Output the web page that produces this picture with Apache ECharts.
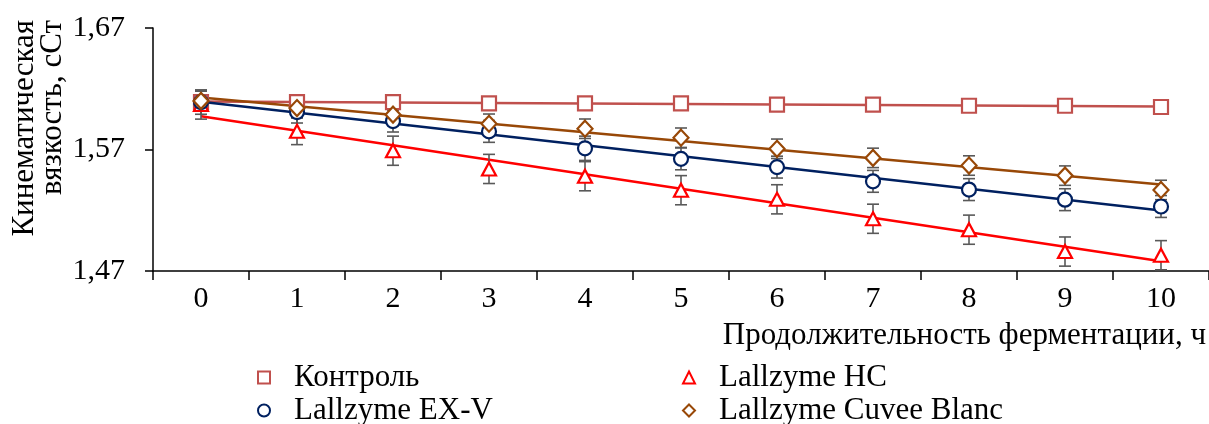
<!DOCTYPE html>
<html>
<head>
<meta charset="utf-8">
<script src="https://cdn.jsdelivr.net/npm/echarts@6/dist/echarts.min.js"></script>
<style>
html,body{margin:0;padding:0;background:#fff;}
#chart{width:1209px;height:424px;}
</style>
</head>
<body>
<div id="chart"></div>
<script>
const hours = ['0','1','2','3','4','5','6','7','8','9','10'];
const yTicks = [1.47, 1.57, 1.67];
const seriesNames = ['Контроль', 'Lallzyme HC', 'Lallzyme EX-V', 'Lallzyme Cuvee Blanc'];
const control = [1.609, 1.609, 1.609, 1.608, 1.608, 1.608, 1.607, 1.607, 1.606, 1.606, 1.605];
const hc      = [1.607, 1.585, 1.569, 1.554, 1.548, 1.5365, 1.529, 1.513, 1.504, 1.486, 1.483];
const exv     = [1.609, 1.6008, 1.5934, 1.5849, 1.571, 1.5623, 1.5555, 1.5438, 1.537, 1.5287, 1.5231];
const cuvee   = [1.610, 1.6041, 1.5987, 1.5912, 1.5871, 1.5797, 1.5706, 1.5631, 1.5568, 1.5485, 1.5367];
const errControl = [0.002, 0.002, 0.002, 0.002, 0.002, 0.002, 0.002, 0.002, 0.002, 0.002, 0.002];
const errHc      = [0.012, 0.011, 0.012, 0.012, 0.012, 0.012, 0.012, 0.012, 0.012, 0.012, 0.012];
const errExv     = [0.010, 0.009, 0.009, 0.009, 0.010, 0.009, 0.009, 0.009, 0.009, 0.009, 0.009];
const errCuvee   = [0.008, 0.008, 0.008, 0.008, 0.008, 0.008, 0.008, 0.008, 0.008, 0.008, 0.008];

const colors = ['#C0504D', '#FF0000', '#002060', '#984807'];
const symbols = ['rect', 'triangle', 'circle', 'diamond'];
const symbolSizes = [14, [14, 13], 14, [15, 16]];
const values = [control, hc, exv, cuvee];
const errs = [errControl, errHc, errExv, errCuvee];
const FONT = '"Liberation Serif", "Times New Roman", serif';

function linFit(arr) {
  const n = arr.length;
  let sx = 0, sy = 0, sxx = 0, sxy = 0;
  arr.forEach((v, i) => { sx += i; sy += v; sxx += i * i; sxy += i * v; });
  const b = (n * sxy - sx * sy) / (n * sxx - sx * sx);
  const a = (sy - b * sx) / n;
  return [[0, a], [n - 1, a + b * (n - 1)]];
}

const series = [];
values.forEach((vals, k) => {
  series.push({
    name: 'trend' + k, type: 'line', data: linFit(vals), showSymbol: false, symbol: 'none',
    lineStyle: { color: colors[k], width: 2.5 }, z: 2, silent: true
  });
});
values.forEach((vals, k) => {
  series.push({
    name: 'err' + k, type: 'custom', z: 3, silent: true,
    data: vals.map((v, i) => [i, v - errs[k][i], v + errs[k][i]]),
    renderItem: function (params, api) {
      const lo = api.coord([api.value(0), api.value(1)]);
      const hi = api.coord([api.value(0), api.value(2)]);
      const hw = 6;
      const st = { stroke: '#595959', lineWidth: 1.6 };
      return { type: 'group', children: [
        { type: 'line', shape: { x1: lo[0], y1: lo[1], x2: hi[0], y2: hi[1] }, style: st },
        { type: 'line', shape: { x1: lo[0] - hw, y1: lo[1], x2: lo[0] + hw, y2: lo[1] }, style: st },
        { type: 'line', shape: { x1: hi[0] - hw, y1: hi[1], x2: hi[0] + hw, y2: hi[1] }, style: st }
      ]};
    }
  });
});
values.forEach((vals, k) => {
  series.push({
    name: seriesNames[k], type: 'scatter', z: 4,
    data: vals.map((v, i) => [i, v]),
    symbol: symbols[k], symbolSize: symbolSizes[k],
    itemStyle: { color: '#ffffff', borderColor: colors[k], borderWidth: 2.2, opacity: 1 },
    emphasis: { disabled: true }
  });
});

const legendPos = [[257, 362], [682, 362], [257, 395], [682, 395]];
const legends = seriesNames.map((nm, k) => ({
  left: legendPos[k][0], top: legendPos[k][1], data: [nm], padding: 0,
  itemWidth: 12, itemHeight: 12, selectedMode: false,
  textStyle: { fontFamily: FONT, fontSize: 31, color: '#000', padding: [0, 0, 0, 19] }
}));

const chart = echarts.init(document.getElementById('chart'), null, { renderer: 'canvas' });
chart.setOption({
  animation: false,
  backgroundColor: '#ffffff',
  grid: { left: 153, top: 28, width: 1064, height: 243, containLabel: false },
  xAxis: {
    type: 'category', data: hours, boundaryGap: true,
    axisLine: { lineStyle: { color: '#000', width: 1.5 } },
    axisTick: { show: true, length: 9, lineStyle: { color: '#000', width: 1.5 } },
    axisLabel: { fontFamily: FONT, fontSize: 30, color: '#000', margin: 13, interval: 0 },
    splitLine: { show: false }
  },
  yAxis: {
    type: 'value', min: yTicks[0], max: yTicks[yTicks.length - 1], interval: 0.1,
    axisLine: { show: true, lineStyle: { color: '#000', width: 1.5 } },
    axisTick: { show: true, length: 8, lineStyle: { color: '#000', width: 1.5 } },
    axisLabel: { fontFamily: FONT, fontSize: 30, color: '#000', margin: 28,
      formatter: v => v.toFixed(2).replace('.', ',') },
    splitLine: { show: false }
  },
  legend: legends,
  graphic: [
    { type: 'text', x: 25, y: 20, rotation: Math.PI / 2,
      style: { text: 'Кинематическая', font: '31px ' + FONT, fill: '#000', textAlign: 'right', textVerticalAlign: 'middle' } },
    { type: 'text', x: 53, y: 20, rotation: Math.PI / 2,
      style: { text: 'вязкость, сСт', font: '31px ' + FONT, fill: '#000', textAlign: 'right', textVerticalAlign: 'middle' } },
    { type: 'text', x: 1206, y: 336,
      style: { text: 'Продолжительность ферментации, ч', font: '31px ' + FONT, fill: '#000', textAlign: 'right', textVerticalAlign: 'middle' } }
  ],
  series: series
});
</script>
</body>
</html>
